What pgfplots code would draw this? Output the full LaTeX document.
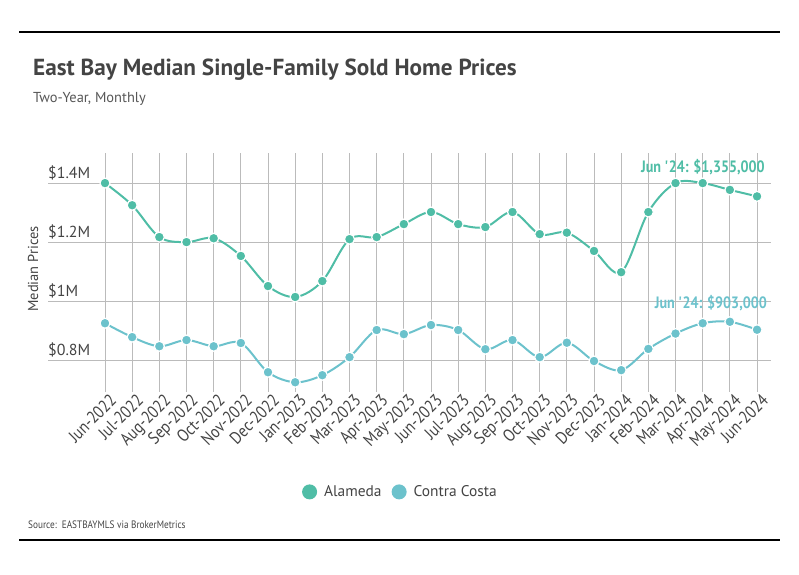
\documentclass[border=0pt]{standalone}
\usepackage{pgfplots}
\pgfplotsset{compat=1.18}
\usepackage{fontspec}
\setmainfont{PT Sans}
\newfontfamily\narrow[FakeStretch=0.86]{PT Sans}
\definecolor{alameda}{HTML}{4FBDA6}
\definecolor{contra}{HTML}{6CC2CC}
\definecolor{txt}{HTML}{444444}
\definecolor{gridc}{HTML}{BBBBBB}

\pgfplotstableread{
idx alameda contra
0  1.400 0.925
1  1.325 0.878
2  1.217 0.847
3  1.200 0.868
4  1.213 0.847
5  1.153 0.858
6  1.051 0.759
7  1.014 0.725
8  1.068 0.749
9  1.210 0.810
10 1.217 0.902
11 1.261 0.888
12 1.302 0.919
13 1.261 0.902
14 1.251 0.837
15 1.302 0.868
16 1.227 0.810
17 1.232 0.859
18 1.170 0.797
19 1.098 0.766
20 1.302 0.838
21 1.400 0.890
22 1.400 0.925
23 1.377 0.930
24 1.355 0.903
}\prices

\begin{document}
\begin{tikzpicture}[x=1bp,y=1bp]
\useasboundingbox (0,0) rectangle (799,575);
\draw[line width=1.2bp] (19,543) -- (780,543);
\draw[line width=1.2bp] (19,35) -- (780,35);
\node[anchor=base west, inner sep=0pt, text=txt, font=\fontsize{23.3}{26}\selectfont\bfseries] at (33,499) {East Bay Median Single-Family Sold Home Prices};
\node[anchor=base west, inner sep=0pt, text=txt!90, font=\fontsize{14.5}{17}\selectfont] at (33,472) {Two-Year, Monthly};
\node[rotate=90, text=txt, font=\fontsize{14.5}{16}\selectfont] at (33,306) {Median Prices};
\node[anchor=base west, inner sep=0pt, text=txt, font=\narrow\fontsize{10.8}{13}\selectfont] at (28,46) {Source:\ \ EASTBAYMLS via BrokerMetrics};

\begin{axis}[
    at={(48bp,183bp)}, anchor=south west,
    scale only axis,
    width=723bp, height=239bp,
    xmin=-2.098, xmax=24.515,
    ymin=0.692, ymax=1.502,
    axis line style={draw=none},
    major tick length=0pt,
    grid=major,
    grid style={gridc, line width=0.8bp},
    xtick={0,...,24},
    xticklabels={Jun-2022,Jul-2022,Aug-2022,Sep-2022,Oct-2022,Nov-2022,Dec-2022,Jan-2023,Feb-2023,Mar-2023,Apr-2023,May-2023,Jun-2023,Jul-2023,Aug-2023,Sep-2023,Oct-2023,Nov-2023,Dec-2023,Jan-2024,Feb-2024,Mar-2024,Apr-2024,May-2024,Jun-2024},
    xticklabel style={rotate=45, anchor=north east, text=txt, font=\narrow\fontsize{17.5}{19}\selectfont, inner sep=1bp, yshift=-2bp, xshift=3bp},
    ytick={0.8,1,1.2,1.4},
    yticklabels={\$0.8M,\$1M,\$1.2M,\$1.4M},
    yticklabel style={anchor=south west, text=txt, font=\fontsize{16}{18}\selectfont, inner sep=0pt, yshift=3bp, xshift=0bp},
    legend columns=-1,
    legend style={at={(0.4875,-0.418)}, anchor=center, draw=none, fill=none,
        font=\fontsize{15.5}{18}\selectfont, text=txt,
        /tikz/every odd column/.append style={column sep=5bp},
        /tikz/every even column/.append style={column sep=8bp}},
    legend image code/.code={\fill[#1, draw=none] (0.2em,0bp) circle (7.5bp);},
    every axis plot/.append style={smooth, tension=0.55, line width=2bp,
        mark=*, mark size=5bp, mark options={draw=white, line width=1.2bp}},
]
\addplot[color=alameda] table[x=idx, y=alameda] {\prices};
\addplot[color=contra] table[x=idx, y=contra] {\prices};
\legend{Alameda, Contra Costa}
\node[anchor=south east, text=alameda, inner sep=0pt, font=\narrow\fontsize{16.5}{18}\selectfont\bfseries] at (axis cs:24.29,1.427) {Jun \textquotesingle24: \$1,355,000};
\node[anchor=south east, text=contra, inner sep=0pt, font=\narrow\fontsize{16.5}{18}\selectfont\bfseries] at (axis cs:24.37,0.966) {Jun \textquotesingle24: \$903,000};
\end{axis}
\end{tikzpicture}
\end{document}
